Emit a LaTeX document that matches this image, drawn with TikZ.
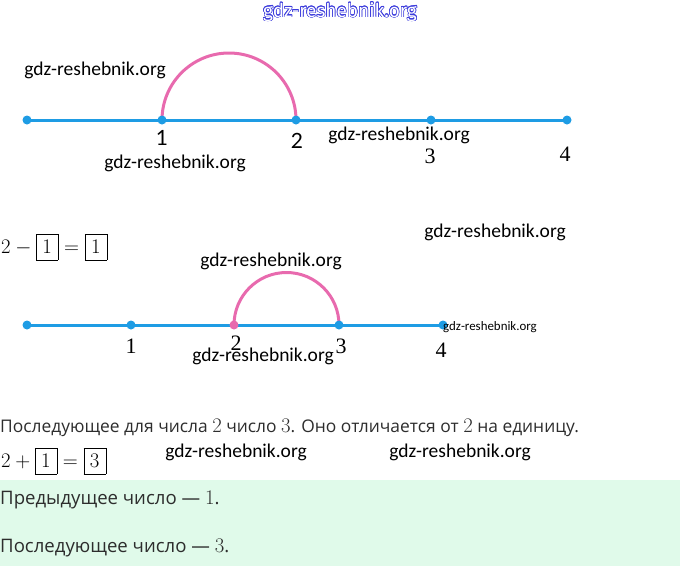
\documentclass[tikz,border=0pt]{standalone}
\usepackage{amsmath}
\usepackage{fontspec}
\setmainfont{Open Sans}
\newfontfamily\wmfont{Carlito}
\newfontfamily\numsans{Lato}
\newfontfamily\numserif{Liberation Serif}
\newfontfamily\topfont{Fira Sans}
\usepackage{contour}
\contourlength{0.6pt}
\usetikzlibrary{arrows.meta}

\definecolor{lineblue}{RGB}{30,156,228}
\definecolor{arcpink}{RGB}{232,106,174}
\definecolor{mint}{RGB}{224,250,234}
\definecolor{textgray}{RGB}{45,45,45}
\definecolor{wmblue}{RGB}{60,60,220}

% digits set in the bigger math size inside running text
\newcommand{\tnum}[1]{{\fontsize{20}{20}\selectfont$#1$}}

\begin{document}
\begin{tikzpicture}[
    x=1pt, y=1pt,
    dot/.style={circle, fill=lineblue, inner sep=0pt, minimum size=9pt},
    pinkdot/.style={dot, fill=arcpink},
    numline/.style={lineblue, line width=3pt},
    hop/.style={arcpink, line width=3pt},
    wm/.style={inner sep=0pt, font=\wmfont\fontsize{19.5}{20}\selectfont},
    labsans/.style={inner sep=0pt, font=\numsans\fontsize{21}{22}\selectfont},
    labserif/.style={inner sep=0pt, font=\numserif\fontsize{22}{24}\selectfont},
    eq/.style={anchor=west, inner sep=0pt, font=\fontsize{21}{24}\selectfont},
    txt/.style={anchor=west, inner sep=0pt, text=textgray, font=\fontsize{17.4}{20}\selectfont},
    answer/.style={txt, font=\fontsize{18.6}{22}\selectfont}
]
\useasboundingbox (0,0) rectangle (680,-566);
\setlength{\fboxsep}{6pt}

% answer panel
\fill[mint] (0,-480) rectangle (680,-566);

% first number line
\foreach \i/\x in {0/27,1/162,2/296,3/431,4/567}
    \coordinate (a\i) at (\x,-120);
\draw[numline] (a0) -- (a4);
\draw[hop] (a1) arc[start angle=180, end angle=0, radius=67];
\foreach \i in {0,...,4}
    \node[dot] (da\i) at (a\i) {};

\node[labsans] (la1) at (162,-138) {1};
\node[labsans] (la2) at (297,-141) {2};
\node[labserif] (la3) at (430,-156) {3};
\node[labserif] (la4) at (565,-154) {4};

\node[eq] (eqminus) at (1,-247) {$2-\boxed{1}=\boxed{1}$};

% second number line
\foreach \i/\x in {0/27,1/131,2/234,3/339,4/443}
    \coordinate (b\i) at (\x,-325);
\draw[numline] (b0) -- (b4);
\draw[hop] (b2) arc[start angle=180, end angle=0, radius=52.5];
\foreach \i in {0,1,3,4}
    \node[dot] (db\i) at (b\i) {};
\node[pinkdot] (db2) at (b2) {};

\node[labserif] (lb1) at (131,-346) {1};
\node[labserif] (lb2) at (236,-343) {2};
\node[labserif] (lb3) at (341,-346) {3};
\node[labserif] (lb4) at (441,-350) {4};

% texts
\node[txt] (next) at (0,-428)
    {Последующее для числа \tnum{2} число \tnum{3}. Оно отличается от \tnum{2} на единицу.};
\node[eq] (eqplus) at (1,-461) {$2+\boxed{1}=\boxed{3}$};
\node[answer] (prev) at (0,-500) {Предыдущее число — \tnum{1}.};
\node[answer] (succ) at (0,-548) {Последующее число — \tnum{3}.};

% watermarks
\node[inner sep=0pt, font=\topfont\fontsize{19}{20}\selectfont] (wmtop) at (340,-12)
    {\contour{wmblue}{\textcolor{white}{gdz-reshebnik.org}}};
\foreach \n/\x/\y in {w1/95/70, w2/175/163, w3/399/135, w4/495/232,
                      w5/271/261, w6/263/356, w7/236/452, w8/460/452}
    \node[wm] (\n) at (\x,-\y) {gdz-reshebnik.org};
\node[inner sep=0pt, anchor=west, font=\wmfont\fontsize{12.9}{14}\selectfont] (w9)
    at (443,-327) {gdz-reshebnik.org};

\end{tikzpicture}
\end{document}
